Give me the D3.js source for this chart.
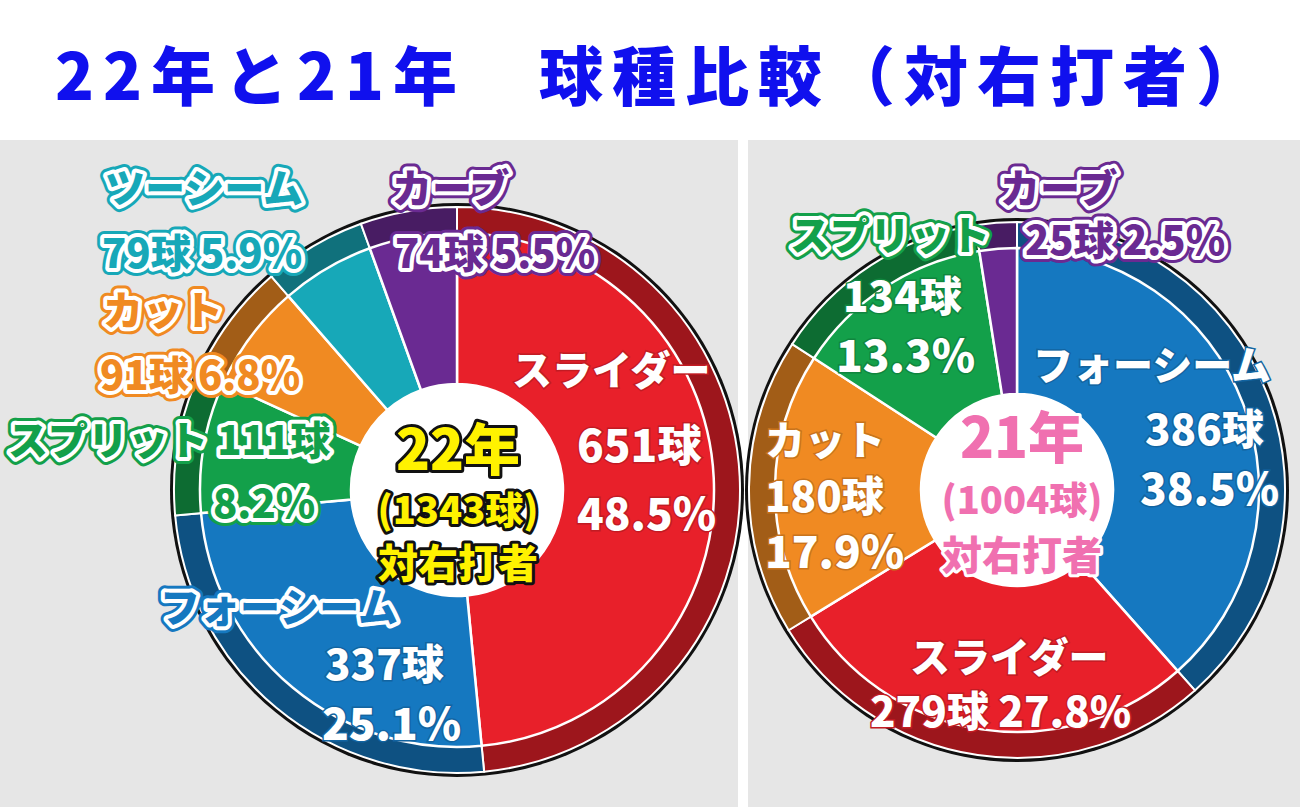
<!DOCTYPE html>
<html><head><meta charset="utf-8">
<script src="https://cdn.jsdelivr.net/npm/d3@7"></script>
<style>body{margin:0;background:#fff}text{font-family:"Noto Sans CJK JP",sans-serif;font-weight:900}</style>
</head><body>
<svg id="c" width="1300" height="807"></svg>
<script>
const pitches22 = ["スライダー","フォーシーム","スプリット","カット","ツーシーム","カーブ"];
const counts22 = [651,337,111,91,79,74];
const pct22 = [48.5,25.1,8.2,6.8,5.9,5.5];
const pitches21 = ["フォーシーム","スライダー","カット","スプリット","カーブ"];
const counts21 = [386,279,180,134,25];
const pct21 = [38.5,27.8,17.9,13.3,2.5];
const colors = {"スライダー":"#e8202a","フォーシーム":"#1578c0","スプリット":"#13a04a","カット":"#f08a22","ツーシーム":"#17a8b8","カーブ":"#6a2a92"};

const svg = d3.select("#c");
svg.append("rect").attr("x",0).attr("y",140).attr("width",738).attr("height",667).attr("fill","#e6e6e6");
svg.append("rect").attr("x",748).attr("y",140).attr("width",552).attr("height",667).attr("fill","#e6e6e6");
svg.append("text").attr("x",55).attr("y",100).attr("font-size",64)
  .attr("textLength",1205).attr("lengthAdjust","spacing")
  .attr("fill","#1010ee").text("22年と21年　球種比較（対右打者）");

function drawPie(cx,cy,R,hole,names,counts){
  const g = svg.append("g").attr("transform",`translate(${cx},${cy})`);
  const arcs = d3.pie().sort(null).value(d=>d.v)(names.map((n,i)=>({n,v:counts[i]})));
  g.append("circle").attr("r",R+4).attr("fill","#111");
  const rim = d3.arc().innerRadius(R-30).outerRadius(R);
  const main = d3.arc().innerRadius(hole).outerRadius(R-26);
  g.selectAll(".rim").data(arcs).join("path").attr("d",rim)
    .attr("fill",d=>d3.color(colors[d.data.n]).darker(1.1)).attr("stroke","#fff").attr("stroke-width",2);
  g.selectAll(".main").data(arcs).join("path").attr("d",main)
    .attr("fill",d=>colors[d.data.n]).attr("stroke","#fff").attr("stroke-width",2.5);
  g.append("circle").attr("r",hole).attr("fill","#fff");
  return g;
}
drawPie(457,490,283,106,pitches22,counts22);
drawPie(1017,490,268,96,pitches21,counts21);

function lab(x,y,t,col,inside,size){
  size=size||40;
  if(inside){
    svg.append("text").attr("x",x).attr("y",y).attr("font-size",size).attr("fill","#fff")
      .attr("stroke",d3.color(col).darker(0.5)).attr("stroke-width",3).attr("paint-order","stroke").text(t);
  } else {
    svg.append("text").attr("x",x).attr("y",y).attr("font-size",size).attr("fill","none")
      .attr("stroke",col).attr("stroke-width",14).attr("stroke-linejoin","round").text(t);
    svg.append("text").attr("x",x).attr("y",y).attr("font-size",size).attr("fill",col)
      .attr("stroke","#fff").attr("stroke-width",8).attr("stroke-linejoin","round").attr("paint-order","stroke").text(t);
  }
}
const C=colors;
lab(105,203,pitches22[4],C["ツーシーム"]);
lab(102,268,`${counts22[4]}球 ${pct22[4]}%`,C["ツーシーム"]);
lab(392,203,pitches22[5],C["カーブ"]);
lab(395,268,`${counts22[5]}球 ${pct22[5]}%`,C["カーブ"]);
lab(103,325,pitches22[3],C["カット"]);
lab(100,390,`${counts22[3]}球 ${pct22[3]}%`,C["カット"]);
lab(8,455,`${pitches22[2]} ${counts22[2]}球`,C["スプリット"]);
lab(213,518,`${pct22[2]}%`,C["スプリット"]);
lab(512,385,pitches22[0],C["スライダー"],true);
lab(577,462,`${counts22[0]}球`,C["スライダー"],true,44);
lab(577,530,`${pct22[0]}%`,C["スライダー"],true,44);
lab(160,622,pitches22[1],C["フォーシーム"]);
lab(325,680,`${counts22[1]}球`,C["フォーシーム"],true,42);
lab(322,740,`${pct22[1]}%`,C["フォーシーム"],true,44);
lab(1000,203,pitches21[4],C["カーブ"]);
lab(1025,255,`${counts21[4]}球 ${pct21[4]}%`,C["カーブ"]);
lab(790,250,pitches21[3],C["スプリット"]);
lab(843,312,`${counts21[3]}球`,C["スプリット"],true,42);
lab(836,372,`${pct21[3]}%`,C["スプリット"],true,44);
lab(1033,380,pitches21[0],C["フォーシーム"],true);
lab(1145,445,`${counts21[0]}球`,C["フォーシーム"],true,42);
lab(1140,505,`${pct21[0]}%`,C["フォーシーム"],true,44);
lab(765,455,pitches21[2],C["カット"],true);
lab(765,512,`${counts21[2]}球`,C["カット"],true,42);
lab(765,568,`${pct21[2]}%`,C["カット"],true,44);
lab(910,672,pitches21[1],C["スライダー"],true);
lab(870,727,`${counts21[1]}球 ${pct21[1]}%`,C["スライダー"],true,42);

function center(x,lines,fill,stroke){
  lines.forEach(l=>{
    svg.append("text").attr("x",x).attr("y",l[1]).attr("text-anchor","middle").attr("font-size",l[2])
      .attr("fill",fill).attr("stroke",stroke).attr("stroke-width",6).attr("stroke-linejoin","round")
      .attr("paint-order","stroke").text(l[0]);
  });
}
center(458,[["22年",470,56],["(1343球)",524,38],["対右打者",578,40]],"#fff200","#111");
center(1022,[["21年",458,56],["(1004球)",514,38],["対右打者",570,40]],"#f070b0","#fff");
</script>
</body></html>
